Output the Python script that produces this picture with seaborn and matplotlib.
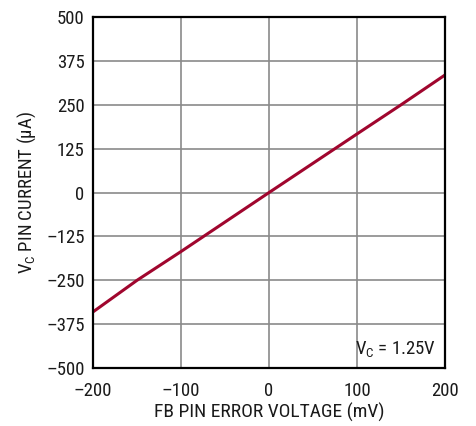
import matplotlib
matplotlib.use("Agg")
import matplotlib.pyplot as plt
import seaborn as sns
import pandas as pd
from matplotlib import font_manager

x_mv = [-200, -150, -100, 0, 100, 150, 200]
i_ua = [-340, -250, -168, 0, 167, 250, 335]
x_ticks = [-200, -100, 0, 100, 200]
y_ticks = [-500, -375, -250, -125, 0, 125, 250, 375, 500]

sns.set_style("white")
names = {f.name for f in font_manager.fontManager.ttflist}
prefs = ["Roboto Condensed", "Liberation Sans Narrow", "Archivo Narrow", "Liberation Sans"]
fam = next((p for p in prefs if p in names), "DejaVu Sans")
plt.rcParams['font.family'] = [fam, 'DejaVu Sans']
plt.rcParams['text.color'] = '#1a1a1a'
plt.rcParams['axes.labelcolor'] = '#1a1a1a'
plt.rcParams['xtick.color'] = '#1a1a1a'
plt.rcParams['ytick.color'] = '#1a1a1a'

df = pd.DataFrame({"x": x_mv, "y": i_ua})
fig = plt.figure(figsize=(4.77, 4.26), dpi=100)
ax = fig.add_axes([0.195, 0.136, 0.738, 0.824])
sns.lineplot(data=df, x="x", y="y", ax=ax, color="#a0062e", linewidth=2.2)
ax.set_xlim(-200, 200)
ax.set_ylim(-500, 500)
ax.set_xticks(x_ticks)
ax.set_yticks(y_ticks)
ax.set_xticklabels([str(v).replace('-', '\u2013') for v in x_ticks])
ax.set_yticklabels([str(v).replace('-', '\u2013') for v in y_ticks])
ax.grid(True, color="#8a8a8a", linewidth=1.2)
ax.set_axisbelow(True)
for s in ax.spines.values():
    s.set_color("black")
    s.set_linewidth(1.6)
ax.tick_params(axis='both', labelsize=13.5, length=0)
ax.tick_params(axis='x', pad=10)
ax.tick_params(axis='y', pad=6)
ax.set_xlabel("FB PIN ERROR VOLTAGE (mV)", fontsize=14, labelpad=2)
ax.set_ylabel("V$_\\mathregular{C}$ PIN CURRENT (\u00b5A)", fontsize=13.5, labelpad=6)
ax.text(0.975, 0.022, "V$_\\mathregular{C}$ = 1.25V", transform=ax.transAxes,
        ha="right", va="bottom", fontsize=13.5)
fig.savefig("out.png", dpi=100)
